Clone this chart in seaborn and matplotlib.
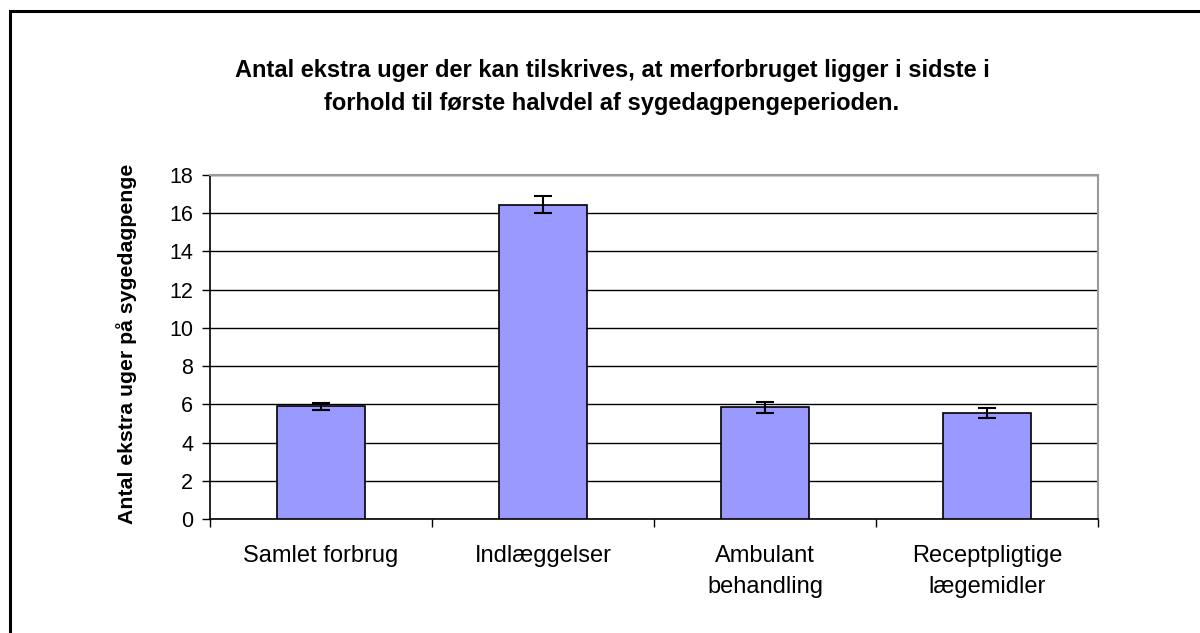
import matplotlib
matplotlib.use("Agg")
import matplotlib.pyplot as plt
import matplotlib.patches as mpatches
import seaborn as sns
import pandas as pd

categories = ["Samlet forbrug", "Indlæggelser", "Ambulant\nbehandling", "Receptpligtige\nlægemidler"]
values = [5.9, 16.45, 5.85, 5.55]
errors = [0.18, 0.45, 0.28, 0.26]
y_ticks = [0, 2, 4, 6, 8, 10, 12, 14, 16, 18]

title = ("Antal ekstra uger der kan tilskrives, at merforbruget ligger i sidste i\n"
         "forhold til første halvdel af sygedagpengeperioden.")
ylabel = "Antal ekstra uger på sygedagpenge"

sns.set_style("white")
plt.rcParams["font.family"] = ["Liberation Sans", "DejaVu Sans"]
plt.rcParams["text.color"] = "black"
plt.rcParams["xtick.color"] = "black"
plt.rcParams["ytick.color"] = "black"

fig = plt.figure(figsize=(12, 6.33), dpi=100)
ax = fig.add_axes([0.175, 0.18, 0.74, 0.5435])

df = pd.DataFrame({"kategori": categories, "uger": values})
sns.barplot(data=df, x="kategori", y="uger", ax=ax, width=0.4,
            color="#9999FF", saturation=1, edgecolor="black", linewidth=1.2,
            errorbar=None, zorder=3)
ax.errorbar(range(len(values)), values, yerr=errors, fmt="none",
            ecolor="black", elinewidth=1.5, capsize=6.5, capthick=1.5, zorder=4)

ax.set_xlim(-0.5, len(categories) - 0.5)
ax.set_ylim(0, 18)
ax.set_yticks(y_ticks)
ax.yaxis.grid(True, color="black", linewidth=1.0, zorder=0)
ax.set_axisbelow(True)

# Category ticks sit on the boundaries; labels sit at the bar centres
ax.set_xticks([i - 0.5 for i in range(len(categories) + 1)])
ax.set_xticklabels([])
ax.set_xticks(range(len(categories)), minor=True)
ax.set_xticklabels(categories, minor=True, fontsize=17, va="top", linespacing=1.5)
ax.tick_params(axis="x", which="major", direction="out", length=6, width=1, color="black", bottom=True)
ax.tick_params(axis="x", which="minor", length=0, pad=19)
ax.tick_params(axis="y", direction="out", length=6, width=1, color="black", left=True,
               labelsize=15.5, pad=6)

ax.set_xlabel("")
ax.set_ylabel("")
fig.text(127 / 1200, 1 - 344 / 633, ylabel, rotation=90, ha="center", va="center",
         fontsize=15.3, fontweight="bold")

for side in ("left", "bottom"):
    ax.spines[side].set_color("black")
    ax.spines[side].set_linewidth(1.2)
for side in ("top", "right"):
    ax.spines[side].set_visible(True)
    ax.spines[side].set_color("#9a9a9a")
    ax.spines[side].set_linewidth(1.5)

fig.text(0.510, 1 - 87 / 633, title, ha="center", va="center", fontsize=17,
         fontweight="bold", linespacing=1.55)

# Outer chart frame
fig.patches.append(mpatches.Rectangle((9.5 / 1200, -0.1), 1.2, 1 - 11.5 / 633 + 0.1,
                                      transform=fig.transFigure, fill=False,
                                      edgecolor="black", linewidth=2.2))

fig.savefig("out.png", dpi=100)
